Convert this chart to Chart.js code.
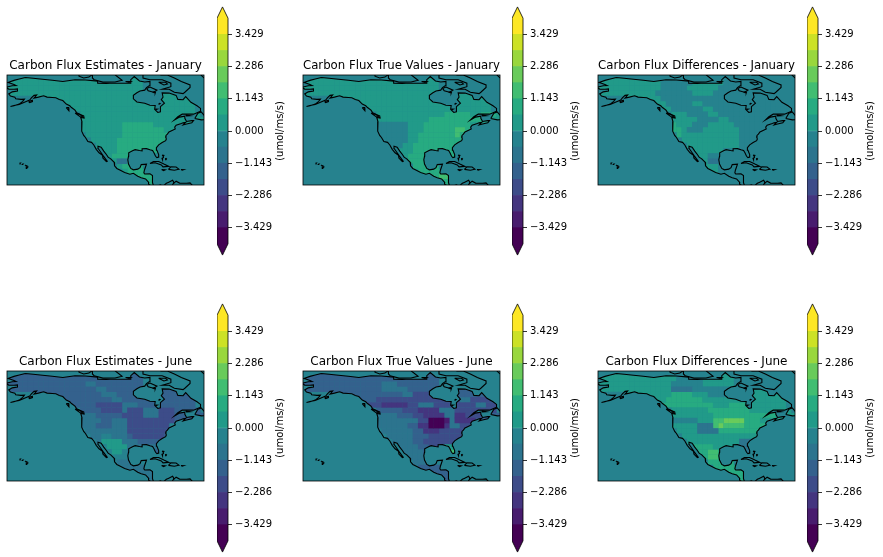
<!DOCTYPE html>
<html>
<head>
<meta charset="utf-8">
<title>Carbon flux maps</title>
<script src="https://cdn.jsdelivr.net/npm/chart.js@4"></script>
<style>
html, body { margin: 0; padding: 0; background: #fff; overflow: hidden; }
#page { position: relative; width: 883px; height: 557px; }
canvas { position: absolute; }
</style>
</head>
<body>
<div id="page"></div>
<script>
const panelTitles = [
  'Carbon Flux Estimates - January', 'Carbon Flux True Values - January', 'Carbon Flux Differences - January',
  'Carbon Flux Estimates - June', 'Carbon Flux True Values - June', 'Carbon Flux Differences - June'
];
const unitLabel = '(umol/ms/s)';
const colorbarTicks = [3.429, 2.286, 1.143, 0, -1.143, -2.286, -3.429];
const levels = [-4, -3.429, -2.857, -2.286, -1.714, -1.143, -0.571, 0, 0.571, 1.143, 1.714, 2.286, 2.857, 3.429, 4];
const bandColors = ['#440154', '#481c6e', '#44357f', '#3d4c89', '#34618d', '#2c748e', '#26828e',
  '#219a89', '#27ab81', '#41bd72', '#69cb5b', '#99d73d', '#cce126', '#fde725'];

// band for each 3 degree cell, north row first, 0-d = lowest to highest level
const janEstimates = [
  '77777777777777777777777777666666666666',
  '77777777777777777777777777666666666666',
  '77777777777777777777777777666666666666',
  '77777777777777777777777777777777766666',
  '66666777777777777777777777777777777766',
  '66666666667777777777777777777777777766',
  '66666666666677777777777777777777777766',
  '66666666666666777777777777777777777776',
  '66666666666666777777777777777777777777',
  '66666666666666777777778888887777777777',
  '66666666666666777777778888888877777766',
  '66666666666666677777778888888886666666',
  '66666666666666667777788888888886666666',
  '66666666666666666777788888888866666666',
  '66666666666666666677788888888866666666',
  '66666666666666666667888886666688666666',
  '66666666666666666666755888666666666666',
  '66666666666666666666678888666666666666',
  '66666666666666666666667888886666666666',
  '66666666666666666666666788888666666666',
  '66666666666666666666666667888866666666'
];
const janTrue = [
  '77777777777777777777777777666666666666',
  '77777777777777777777777777666666666666',
  '77777777777777777777777777666666666666',
  '77777777777777777777777777777777766666',
  '66666777777777777777777777777777777766',
  '66666666667777777777777777777777777766',
  '66666666666677777777777777777777777766',
  '66666666666666777777777777788888778887',
  '66666666666666777777777788888888888777',
  '66666666666666666666777888888888777777',
  '66666666666666666666777888888998666666',
  '66666666666666666666778888888986666666',
  '66666666666666666666778888888886666666',
  '66666666666666666667788888888866666666',
  '66666666666666666677788888888866666666',
  '66666666666666666667888886668866666666',
  '66666666666666666666888886666666666666',
  '66666666666666666666688888666666666666',
  '66666666666666666666678888866666666666',
  '66666666666666666666666888999666666666',
  '66666666666666666666666668889966666666'
];
const janDiff = [
  '77777777777776666677777666666666666666',
  '77777777777766666677777766666666666666',
  '77777777777766666777777666666666666666',
  '77777777777666666677776666666666666666',
  '66666777777766666666666666666666666666',
  '66666666667776666677666666666666666666',
  '66666666666677666666776666666666666666',
  '66666666666666777666677666666666666666',
  '66666666666666777776666776666666666666',
  '66666666666666877766677777666666666666',
  '66666666666666887666777777766666666666',
  '66666666666666687777777777766666666666',
  '66666666666666667777777777766666666666',
  '66666666666666666777777777766666666666',
  '66666666666666666677777766666666666666',
  '66666666666666666667766666666666666666',
  '66666666666666666666755666666666666666',
  '66666666666666666666777666666666666666',
  '66666666666666666666677666666666666666',
  '66666666666666666666666666666666666666',
  '66666666666666666666666666666666666666'
];
const junEstimates = [
  '44444444444444444444444444666666666666',
  '44444444444444444444444444666666666666',
  '44444444444444455444444444666666666666',
  '44444444444444444554444444444444466666',
  '66666444444444444455544444444444444466',
  '66666666664444444444554444444444444466',
  '66666666666644444333335554444444444466',
  '66666666666666444433335333555333444446',
  '66666666666666555444443333555333444444',
  '66666666666666555544555333333333444444',
  '66666666666666555444555333333336666666',
  '66666666666666655555555333333336666666',
  '66666666666666665566555433333346666666',
  '66666666666666666577775554444466666666',
  '66666666666666666667777555555566666666',
  '66666666666666666666776555554466666666',
  '66666666666666666666666666666666666666',
  '66666666666666666666655556666666666666',
  '66666666666666666666665555566666666666',
  '66666666666666666666666555556666666666',
  '66666666666666666666666665555666666666'
];
const junTrue = [
  '44444444444444444444444444666666666666',
  '44444444444444444444444444666666666666',
  '44444444444444455544444444666666666666',
  '44444444444444455555444444444444466666',
  '66666444444444444445533334444444444466',
  '66666666664444333333333333333355333366',
  '66666666666633322222335553333333355336',
  '66666666666666444443332222555333333336',
  '66666666666666555544433222255223334444',
  '66666666666666555555553300015222244444',
  '66666666666666555555442200025533666666',
  '66666666666666655555544222333336666666',
  '66666666666666665555544433333336666666',
  '66666666666666666555544333333366666666',
  '66666666666666666655554433577766666666',
  '66666666666666666665555466669966666666',
  '66666666666666666666555566668666666666',
  '66666666666666666666655556666666666666',
  '66666666666666666666664444466666666666',
  '66666666666666666666666444446666666666',
  '66666666666666666666666664444666666666'
];
const junDiff = [
  '77777777777777777777777777666666666666',
  '77777777777777766666777777666666666666',
  '77777777777777666666777777666666666666',
  '77777777777777555566666666777777766666',
  '66666777777777888877766666777777777766',
  '66666666667778888888777777777777777766',
  '66666666666688888888887778888777777766',
  '66666666666666777777788888888777777776',
  '66666666666666777777778888888888887777',
  '666666666666666666677799aaaa8887777777',
  '66666666666666777775559a99998888666666',
  '66666666666666677775555888888886666666',
  '66666666666666667777777777777776666666',
  '66666666666666666777777777755566666666',
  '66666666666666666688887777555566666666',
  '66666666666666666668899866665566666666',
  '66666666666666666666899886666666666666',
  '66666666666666666666688888666666666666',
  '66666666666666666666668888866666666666',
  '66666666666666666666666688888666666666',
  '66666666666666666666666668888666666666'
];
const panelGrids = [janEstimates, janTrue, janDiff, junEstimates, junTrue, junDiff];

// coastlines as [lon, lat]
const mainland = [[-156.5,71.3],[-160,70.4],[-163,69.6],[-166.5,68.4],[-165,68],[-163,67.2],[-161.8,66.6],[-164,66.5],[-168,65.6],
  [-166,64.6],[-163,64.5],[-161,64.7],[-161,63.5],[-164,63],[-166,61.8],[-165,60.6],[-162.5,60],[-162,59],[-159,58.7],[-157,58.8],
  [-158,57.5],[-160,56],[-163,55],[-165,54.6],[-163,55.2],[-160,55.7],[-157,57],[-154,58.3],[-153,59.5],[-151.5,61],[-150,61.2],
  [-151.5,59.4],[-149,60],[-146,60.8],[-144,60],[-141,59.8],[-139,59.6],[-137,58.6],[-135,58],[-133,56],[-131,55],[-130,54],
  [-128,52.5],[-127,51],[-125,50],[-123,49.2],[-122.8,48],[-124.7,48.3],[-124,46],[-124,43],[-124.3,40.4],[-123,38],[-122,36.8],
  [-120.6,34.5],[-118.5,34],[-117.2,32.5],[-115.8,30],[-114.2,28],[-112.2,26.5],[-112,25],[-110,23],[-109.5,23.2],[-110.5,24.5],
  [-112,26.5],[-113,28],[-114.7,30.5],[-114.8,31.8],[-113,31.2],[-111.5,29],[-110,27],[-109,25.5],[-107.5,24.5],[-105.5,22.5],
  [-105.3,20.5],[-104,19],[-102,18],[-99.5,16.7],[-96.5,15.7],[-94.5,16.2],[-92,14.5],[-90,13.7],[-87.5,13],[-85.7,11],[-85.8,10],
  [-83.7,8.6],[-83,9.1],[-83.5,10.8],[-83.8,12.5],[-83.3,14.9],[-85,15.9],[-88,15.8],[-88.5,16.5],[-88.2,18],[-87.5,20],[-87,21.5],
  [-90,21.2],[-90.7,19.5],[-92,18.6],[-94.5,18.2],[-96,19],[-97.3,21.5],[-97.7,24],[-97.3,26],[-97.2,28],[-95,29.2],[-93.5,29.8],
  [-91,29.3],[-89.2,29.1],[-89.5,30.3],[-87,30.4],[-85,29.7],[-83.5,29.3],[-82.7,28],[-81.8,26],[-81,25.2],[-80.3,25.5],[-80,27],
  [-81,29.5],[-81.3,31],[-80,32.6],[-78,33.9],[-76,35],[-75.6,36],[-76,37],[-75.8,38],[-75,38.7],[-74.1,40],[-72,41],[-70.5,41.7],
  [-70.8,42.7],[-70,43.8],[-67,44.8],[-66,45.2],[-64.5,45.5],[-66,44],[-64,44.5],[-61,45.3],[-60,46.5],[-61,46.5],[-64,46],[-65,47.8],
  [-65,49],[-68,48.5],[-71,46.8],[-69,48.7],[-66.5,50.2],[-60,50.2],[-56,51.8],[-56,53.5],[-58,55],[-61.5,57],[-64.5,60.3],[-66,58.5],
  [-69,58.7],[-70,61],[-74,62.3],[-78,62.4],[-77.5,60],[-78.5,58.5],[-76.7,56.5],[-79,54.5],[-79,51.5],[-80.5,51.2],[-82.3,53],
  [-82,55.2],[-85,55.3],[-88,56.5],[-92.5,57.2],[-94.5,59],[-94.5,61],[-92.5,62.5],[-90.7,63.5],[-88,64],[-87,65.5],[-85.5,66.5],
  [-85,69],[-88,68.7],[-91,69.3],[-94,71.8],[-96,70],[-96,68],[-100,68],[-108,68],[-110,67.9],[-115,68],[-115,69.2],[-122,69.8],
  [-128,70],[-130,69.7],[-135,69],[-141,69.7],[-148,70.4],[-152,70.8],[-156.5,71.3]];
const newfoundland = [[-59.3,47.7],[-57.5,50.7],[-55.6,51.5],[-53,48.5],[-53,47],[-55.5,46.9],[-59.3,47.7]];
const vancouverIsland = [[-128,50.8],[-125,50],[-123.4,48.5],[-125,48.7],[-128,50.8]];
const otherCoasts = [
  [[-133,54],[-131.7,54],[-131.5,52.2],[-133,54]],
  [[-154.6,57.4],[-152.5,58.2],[-152.4,57.4],[-154,56.8],[-154.6,57.4]],
  [[-155.9,20.2],[-155,19.8],[-155.7,19],[-156,19.7],[-155.9,20.2]],
  [[-156.7,20.9],[-156,20.7],[-156.4,20.6],[-156.7,20.9]],
  [[-158.3,21.5],[-157.8,21.5],[-158,21.3],[-158.3,21.5]],
  [[-159.8,22.1],[-159.3,22.1],[-159.5,21.9],[-159.8,22.1]],
  [[-85,21.9],[-83,23],[-80,23],[-77,21.5],[-74.2,20.2],[-77.5,19.9],[-78.5,21],[-82,22.3],[-85,21.9]],
  [[-74.4,18.5],[-73,19.9],[-70,19.8],[-68.4,18.6],[-71,18],[-74.4,18.5]],
  [[-78.3,18.4],[-76.3,18.2],[-77.2,17.8],[-78.3,18.4]],
  [[-67.2,18.4],[-65.6,18.3],[-66.5,18],[-67.2,18.4]],
  [[-78,26.7],[-77,26.5],[-77.3,25.9],[-78,26.7]],
  [[-78.2,25],[-77.7,25],[-77.8,24],[-78.2,25]],
  [[-76,25],[-75.5,24.5],[-75.8,24],[-76,25]],
  [[-64.5,49.9],[-62,49.3],[-64,49.2],[-64.5,49.9]],
  [[-77.5,8.7],[-75.6,10.5],[-74.5,11],[-72,12.2],[-71.3,11],[-71.8,10],[-70,11.7],[-68,10.6],[-64,10.5],[-62,10.7],[-60,8.5]],
  [[-83,9.1],[-80,9.2],[-79,9.6],[-77.5,8.7]],
  [[-125.7,72.8],[-125.7,72],[-123,71],[-120,71.5],[-118,73]],
  [[-118,72.8],[-118,71],[-117,70],[-112,68.6],[-105,68.7],[-101,69.7],[-105,72.8]],
  [[-99,69],[-96,69],[-97,68.5],[-99,69]],
  [[-87,65],[-85,65.8],[-81,64],[-83,62.8],[-86,63.7],[-87,65]],
  [[-83.5,62.9],[-81.8,62.9],[-82,62.3],[-83.5,62.9]],
  [[-79,72.8],[-75,72.7],[-71,71],[-67,69],[-62,67],[-62,65.5],[-65,62.8],[-66,62],[-71,62.8],[-74,64.5],[-78,64.5],[-73,66],[-73,68],[-78,70],[-85,70],[-89,71],[-89,72.8]],
  [[-80,68.5],[-76,68.5],[-75,67.5],[-77,67],[-80,68.5]],
  [[-79.8,56.5],[-79.2,56.3],[-79.7,55.9],[-79.8,56.5]],
  [[-82,53.2],[-80.8,53.1],[-81.5,52.8],[-82,53.2]],
  [[-55.8,72.8],[-54,71]]
];
const clipCoasts = [mainland, newfoundland, vancouverIsland];
const allCoasts = clipCoasts.concat(otherCoasts);

const bandCodes = '0123456789abcd';
function cellsForBand(rows, band) {
  const cells = [];
  rows.forEach((row, r) => {
    for (let c = 0; c < row.length; c++) {
      if (row[c] === bandCodes[band]) cells.push({ x: -165.5 + 3 * c, y: 71.2 - 3 * r });
    }
  });
  return cells;
}

Chart.defaults.font.family = '"DejaVu Sans"';
Chart.defaults.font.size = 10;
Chart.defaults.color = '#000';

const page = document.getElementById('page');
function addCanvas(left, top, width, height) {
  const c = document.createElement('canvas');
  c.style.left = left + 'px';
  c.style.top = top + 'px';
  c.style.width = width + 'px';
  c.style.height = height + 'px';
  c.width = width;
  c.height = height;
  page.appendChild(c);
  return c.getContext('2d');
}

// ocean, land clip for the cells, frame on top
const mapPlugin = {
  id: 'mapPlugin',
  beforeDatasetsDraw(chart) {
    const { ctx, chartArea: a, scales: { x, y } } = chart;
    ctx.fillStyle = bandColors[6];
    ctx.fillRect(a.left, a.top, a.width, a.height);
    ctx.save();
    ctx.beginPath();
    clipCoasts.forEach(line => {
      line.forEach((p, i) => {
        const px = x.getPixelForValue(p[0]), py = y.getPixelForValue(p[1]);
        if (i === 0) ctx.moveTo(px, py); else ctx.lineTo(px, py);
      });
      ctx.closePath();
    });
    ctx.clip();
  },
  afterDatasetDraw(chart, args) {
    if (args.index === allCoasts.length) chart.ctx.restore();
  },
  afterDatasetsDraw(chart) {
    const { ctx, chartArea: a } = chart;
    ctx.strokeStyle = '#000';
    ctx.lineWidth = 0.8;
    ctx.strokeRect(a.left, a.top, a.width, a.height);
  }
};

function drawMap(i) {
  const col = i % 3, row = Math.floor(i / 3);
  const left = [7, 303, 598][col], top = [75, 371][row];
  const datasets = allCoasts.map(line => ({
    data: line.map(p => ({ x: p[0], y: p[1] })),
    showLine: true, borderColor: '#000', borderWidth: 1.1, pointRadius: 0, tension: 0, clip: 0
  }));
  bandColors.forEach((color, b) => {
    datasets.push({
      data: cellsForBand(panelGrids[i], b),
      showLine: false, pointStyle: 'rect', pointRadius: 3.9, pointBorderWidth: 0,
      pointBackgroundColor: color, clip: 0
    });
  });
  new Chart(addCanvas(left - 7, top - 30, 211, 141), {
    type: 'scatter',
    data: { datasets },
    plugins: [mapPlugin],
    options: {
      responsive: false,
      animation: false,
      events: [],
      layout: { autoPadding: false, padding: { left: 7, right: 7, top: 0, bottom: 1 } },
      scales: {
        x: { type: 'linear', min: -167, max: -54, display: false },
        y: { type: 'linear', min: 9.5, max: 72.7, display: false }
      },
      plugins: {
        legend: { display: false },
        tooltip: { enabled: false },
        title: {
          display: true, text: panelTitles[i], color: '#000',
          font: { size: 12, weight: 'normal', lineHeight: 1.25 },
          padding: { top: 13, bottom: 2 }
        }
      }
    }
  });
}

// extend tips, outline and the upward reading unit label
const colorbarPlugin = {
  id: 'colorbarPlugin',
  afterDatasetsDraw(chart) {
    const { ctx, chartArea: a, scales: { y } } = chart;
    const mid = (a.left + a.right) / 2;
    const top = y.getPixelForValue(4), bottom = y.getPixelForValue(-4);
    const topTip = y.getPixelForValue(4.4), bottomTip = y.getPixelForValue(-4.4);
    ctx.save();
    ctx.fillStyle = bandColors[13];
    ctx.beginPath(); ctx.moveTo(a.left, top); ctx.lineTo(mid, topTip); ctx.lineTo(a.right, top); ctx.closePath(); ctx.fill();
    ctx.fillStyle = bandColors[0];
    ctx.beginPath(); ctx.moveTo(a.left, bottom); ctx.lineTo(mid, bottomTip); ctx.lineTo(a.right, bottom); ctx.closePath(); ctx.fill();
    ctx.strokeStyle = '#000';
    ctx.lineWidth = 0.8;
    ctx.beginPath();
    ctx.moveTo(a.left, top); ctx.lineTo(mid, topTip); ctx.lineTo(a.right, top);
    ctx.lineTo(a.right, bottom); ctx.lineTo(mid, bottomTip); ctx.lineTo(a.left, bottom);
    ctx.closePath();
    ctx.stroke();
    ctx.translate(a.left + 63, y.getPixelForValue(0));
    ctx.rotate(-Math.PI / 2);
    ctx.fillStyle = '#000';
    ctx.font = '10px "DejaVu Sans"';
    ctx.textAlign = 'center';
    ctx.textBaseline = 'middle';
    ctx.fillText(unitLabel, 0, 0);
    ctx.restore();
  }
};

function drawColorbar(i) {
  const col = i % 3, row = Math.floor(i / 3);
  const left = [217, 512, 807][col], top = [5, 302][row];
  new Chart(addCanvas(left, top, 76, 252), {
    type: 'bar',
    data: {
      labels: ['flux'],
      datasets: bandColors.map((color, b) => ({
        data: [[levels[b], levels[b + 1]]],
        backgroundColor: color, borderWidth: 0,
        barPercentage: 1, categoryPercentage: 1, grouped: false
      }))
    },
    plugins: [colorbarPlugin],
    options: {
      responsive: false,
      animation: false,
      events: [],
      layout: { autoPadding: false, padding: 0 },
      scales: {
        x: { display: false },
        y: {
          position: 'right',
          min: -4.468, max: 4.468,
          afterBuildTicks: s => { s.ticks = colorbarTicks.map(v => ({ value: v })); },
          afterFit: s => { s.width = 65; s.paddingTop = 0; s.paddingBottom = 0; },
          grid: { drawOnChartArea: false, drawTicks: true, tickLength: 4, color: '#000', lineWidth: 0.8 },
          border: { display: false },
          ticks: {
            padding: 3,
            autoSkip: false,
            color: '#000',
            callback: v => (v < 0 ? '\u2212' : '') + Math.abs(v).toFixed(3)
          }
        }
      },
      plugins: { legend: { display: false }, tooltip: { enabled: false }, title: { display: false } }
    }
  });
}

for (let i = 0; i < 6; i++) {
  drawMap(i);
  drawColorbar(i);
}
</script>
</body>
</html>
